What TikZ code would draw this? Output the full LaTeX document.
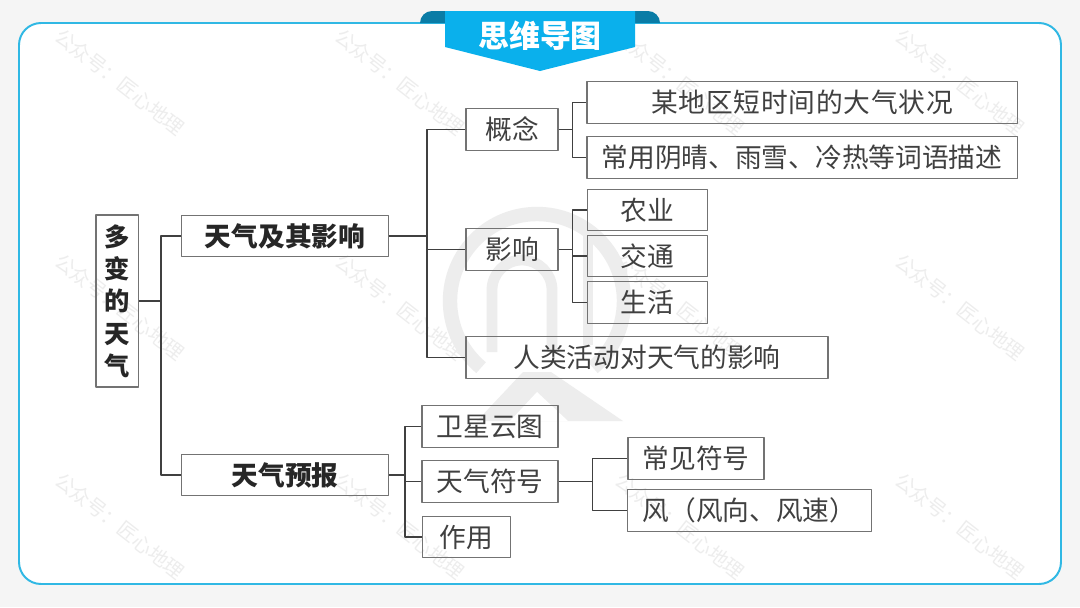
\documentclass[tikz,border=0pt]{standalone}
\usepackage{fontspec}
\setmainfont{Noto Sans CJK SC}
\begin{document}
\begin{tikzpicture}[x=0.025cm, y=-0.025cm, line cap=round, line join=round,
	boxnode/.style={draw=black!55, line width=0.8pt, inner sep=0pt, minimum height=1.03cm, text=black!75, font=\fontsize{19}{19}\selectfont},
	boldnode/.style={boxnode, text=black!85, font=\fontsize{19}{19}\selectfont\bfseries},
	branch/.style={draw=black!75, line width=0.9pt, line cap=butt},
	logo/.style={draw=black!7, line cap=butt, line width=0.36cm},
	mark text/.style={text=black!7, rotate=-38, font=\fontsize{14}{14}\selectfont}]
	\definecolor{pagecolor}{RGB}{245, 245, 245}
	\definecolor{framecolor}{RGB}{48, 184, 228}
	\definecolor{bannercolor}{RGB}{10, 176, 236}
	\definecolor{curlcolor}{RGB}{10, 124, 166}
	\useasboundingbox (0, 0) rectangle (1080, 607);
	\fill[pagecolor] (0, 0) rectangle (1080, 607);
	\fill[white] (19, 23) [rounded corners=0.55cm] rectangle (1061, 584);
	\draw[logo] (537, 301) ++(130:87) arc[start angle=130, delta angle=280, radius=87];
	\draw[logo, line width=0.27cm] (492, 352) -- (492, 290) arc[start angle=180, delta angle=180, radius=30] -- (552, 352);
	\draw[logo, line width=0.27cm] (588, 236) -- (588, 345);
	\fill[black!7] (477, 421) -- (523, 372) -- (551, 372) -- (623, 421) -- cycle;
	\fill[white] (510, 421) -- (537, 392) -- (568, 421) -- cycle;
	\foreach \x in {120, 400, 680, 960}
		\foreach \y in {82, 307, 526}
			\node[mark text] (mark-\x-\y) at (\x, \y) {公众号：匠心地理};
	\draw[framecolor, line width=1.4pt, rounded corners=0.55cm] (19, 23) rectangle (1061, 584);
	\fill[curlcolor] (420, 23) arc[start angle=180, delta angle=90, radius=12] -- (445, 11) -- (445, 23) -- cycle;
	\fill[curlcolor] (660, 23) arc[start angle=0, delta angle=-90, radius=12] -- (635, 11) -- (635, 23) -- cycle;
	\fill[bannercolor] (445, 11) -- (635, 11) -- (635, 47) -- (540, 71) -- (445, 47) -- cycle;
	\node[text=white, font=\fontsize{22}{22}\selectfont\bfseries] (title) at (540, 36) {思维导图};
	\node[boldnode, minimum width=1.06cm, minimum height=4.3cm, align=center, font=\fontsize{18}{23}\selectfont\bfseries] (root) at (117.25, 301) {多\\变\\的\\天\\气};
	\node[boldnode, minimum width=5.16cm] (tianqi) at (285, 236) {天气及其影响};
	\node[boldnode, minimum width=5.16cm] (yubao) at (285, 475) {天气预报};
	\node[boxnode, minimum width=2.3cm] (gainian) at (512, 129.5) {概念};
	\node[boxnode, minimum width=2.3cm] (yingxiang) at (512, 249.5) {影响};
	\node[boxnode, minimum width=9.05cm] (renlei) at (647, 357.5) {人类活动对天气的影响};
	\node[boxnode, minimum width=10.75cm] (moudi) at (802, 102.5) {\addfontfeature{LetterSpace=3}某地区短时间的大气状况};
	\node[boxnode, minimum width=10.75cm] (changyong) at (802, 157.5) {常用阴晴、雨雪、冷热等词语描述};
	\node[boxnode, minimum width=3.02cm] (nongye) at (647.5, 210) {农业};
	\node[boxnode, minimum width=3.02cm] (jiaotong) at (647.5, 256) {交通};
	\node[boxnode, minimum width=3.02cm] (shenghuo) at (647.5, 302.5) {生活};
	\node[boxnode, minimum width=3.4cm] (weixing) at (490, 426.5) {卫星云图};
	\node[boxnode, minimum width=3.4cm] (fuhao) at (490, 481.5) {天气符号};
	\node[boxnode, minimum width=2.22cm] (zuoyong) at (466.5, 537) {作用};
	\node[boxnode, minimum width=3.4cm] (changjian) at (696, 458.5) {常见符号};
	\node[boxnode, minimum width=6.08cm] (feng) at (749.5, 510.5) {风（风向、风速）};
	\coordinate (rootbus) at (161, 301);
	\coordinate (tianqibus) at (427, 236);
	\coordinate (gainianbus) at (572.5, 129.5);
	\coordinate (yingxiangbus) at (572.5, 249.5);
	\coordinate (yubaobus) at (405, 475);
	\coordinate (fuhaobus) at (592.5, 481.5);
	\draw[branch] (root.east) -- (rootbus);
	\foreach \n in {tianqi, yubao}
		\draw[branch] (rootbus) |- (\n.west);
	\draw[branch] (tianqi.east) -- (tianqibus);
	\foreach \n in {gainian, yingxiang, renlei}
		\draw[branch] (tianqibus) |- (\n.west);
	\draw[branch] (gainian.east) -- (gainianbus);
	\foreach \n in {moudi, changyong}
		\draw[branch] (gainianbus) |- (\n.west);
	\draw[branch] (yingxiang.east) -- (yingxiangbus);
	\foreach \n in {nongye, jiaotong, shenghuo}
		\draw[branch] (yingxiangbus) |- (\n.west);
	\draw[branch] (yubao.east) -- (yubaobus);
	\foreach \n in {weixing, fuhao, zuoyong}
		\draw[branch] (yubaobus) |- (\n.west);
	\draw[branch] (fuhao.east) -- (fuhaobus);
	\foreach \n in {changjian, feng}
		\draw[branch] (fuhaobus) |- (\n.west);
\end{tikzpicture}
\end{document}
